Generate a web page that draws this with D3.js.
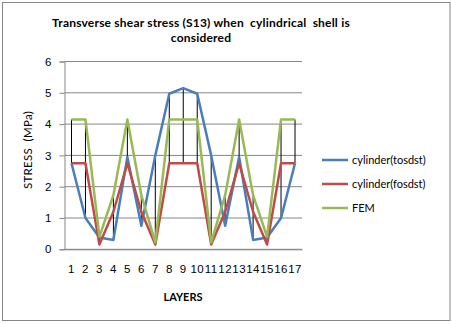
<!DOCTYPE html>
<html>
<head>
<meta charset="utf-8">
<script src="https://cdn.jsdelivr.net/npm/d3@7"></script>
<style>
  body { margin: 0; background: #fff; }
  svg { display: block; font-family: Lato, "Liberation Sans", sans-serif; }
</style>
</head>
<body>
<div id="chart"></div>
<script>
// layers along the thickness
const layers = d3.range(1, 18);

const tosdst = [2.75, 1.0, 0.38, 0.3, 2.95, 0.75, 3.0, 4.97, 5.15, 4.97, 3.0, 0.75, 2.95, 0.3, 0.38, 1.0, 2.75];
const fosdst = [2.75, 2.75, 0.15, 1.2, 2.75, 1.2, 0.15, 2.75, 2.75, 2.75, 0.15, 1.2, 2.75, 1.2, 0.15, 2.75, 2.75];
const fem    = [4.15, 4.15, 0.4, 1.73, 4.15, 1.73, 0.22, 4.15, 4.15, 4.15, 0.22, 1.73, 4.15, 1.73, 0.4, 4.15, 4.15];

const yTicks = [0, 1, 2, 3, 4, 5, 6];

const series = [
  { name: 'cylinder(tosdst)', values: tosdst, color: '#4a7ebb' },
  { name: 'cylinder(fosdst)', values: fosdst, color: '#be4b48' },
  { name: 'FEM', values: fem, color: '#98b954' }
];

const W = 452, H = 324;
const margin = { top: 61.5, right: 150, bottom: 74.7, left: 64.5 };
const width = W - margin.left - margin.right,
      height = H - margin.top - margin.bottom;

const svg = d3.select('#chart').append('svg')
    .attr('width', W)
    .attr('height', H);

// chart border
svg.append('rect')
    .attr('x', 2.5).attr('y', 2.5)
    .attr('width', 447.5).attr('height', 318)
    .attr('fill', 'none')
    .attr('stroke', '#868686');

const g = svg.append('g')
    .attr('transform', `translate(${margin.left},${margin.top})`);

const x = d3.scaleBand()
    .domain(layers)
    .range([0, width]);

const y = d3.scaleLinear()
    .domain([0, 6])
    .range([height, 0]);

// gridlines
g.append('g')
    .selectAll('line')
    .data(yTicks)
    .join('line')
      .attr('x1', 0).attr('x2', width)
      .attr('y1', d => y(d)).attr('y2', d => y(d))
      .attr('stroke', '#868686');

// y axis
const yAxis = g.append('g')
    .call(d3.axisLeft(y).tickValues(yTicks).tickFormat(d3.format('d')).tickSize(5).tickPadding(8));
yAxis.select('.domain').attr('stroke', '#868686');
yAxis.selectAll('.tick line').attr('stroke', '#868686');
yAxis.selectAll('.tick text').attr('font-size', 11.5).attr('fill', '#000');

// x axis
const xAxis = g.append('g')
    .attr('transform', `translate(0,${height})`)
    .call(d3.axisBottom(x).tickSize(0).tickPadding(16));
xAxis.select('.domain').attr('stroke', '#868686');
xAxis.selectAll('.tick text')
    .attr('font-size', 11.5)
    .attr('letter-spacing', 0.4)
    .attr('fill', '#000');

const cx = d => x(d) + x.bandwidth() / 2;

// high-low lines
g.append('g')
    .selectAll('line')
    .data(layers)
    .join('line')
      .attr('x1', cx).attr('x2', cx)
      .attr('y1', (d, i) => y(d3.min(series, s => s.values[i])))
      .attr('y2', (d, i) => y(d3.max(series, s => s.values[i])))
      .attr('stroke', '#000')
      .attr('stroke-width', 1);

const line = d3.line()
    .x((d, i) => cx(layers[i]))
    .y(d => y(d));

g.append('g')
    .selectAll('path')
    .data(series)
    .join('path')
      .attr('fill', 'none')
      .attr('stroke', d => d.color)
      .attr('stroke-width', 2.5)
      .attr('stroke-linejoin', 'round')
      .attr('d', d => line(d.values));

// title
const title = svg.append('text')
    .attr('font-size', 12)
    .attr('font-weight', 'bold')
    .attr('letter-spacing', 0.2)
    .style('white-space', 'pre')
    .attr('text-anchor', 'middle');
title.append('tspan').attr('x', 201).attr('y', 27)
    .text('Transverse shear stress (S13) when  cylindrical  shell is');
title.append('tspan').attr('x', 201).attr('y', 42).text('considered');

// axis titles
svg.append('text')
    .attr('x', 183).attr('y', 301)
    .attr('text-anchor', 'middle')
    .attr('font-size', 11)
    .attr('font-weight', 'bold')
    .text('LAYERS');

svg.append('text')
    .attr('transform', 'translate(32,150) rotate(-90)')
    .attr('text-anchor', 'middle')
    .attr('font-size', 11.5)
    .attr('letter-spacing', 0.3)
    .style('white-space', 'pre')
    .text('STRESS  (MPa)');

// legend
const legend = svg.append('g')
    .selectAll('g')
    .data(series)
    .join('g')
      .attr('transform', (d, i) => `translate(322,${160 + i * 24})`);
legend.append('line')
    .attr('x1', 0).attr('x2', 26)
    .attr('stroke', d => d.color)
    .attr('stroke-width', 2.5);
legend.append('text')
    .attr('x', 30).attr('dy', '0.35em')
    .attr('font-size', 11)
    .text(d => d.name);
</script>
</body>
</html>
